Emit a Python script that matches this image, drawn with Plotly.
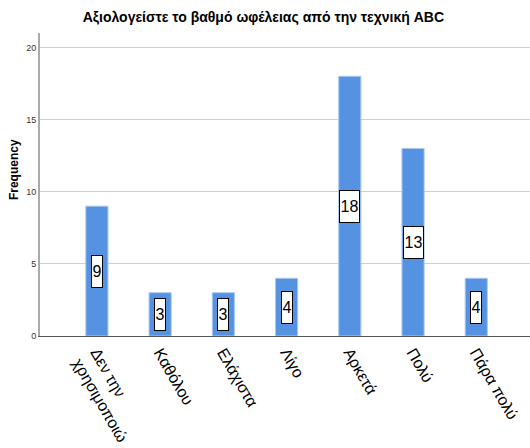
import plotly.graph_objects as go

categories = ["Δεν την<br>χρησιμοποιώ", "Καθόλου", "Ελάχιστα", "Λίγο", "Αρκετά", "Πολύ", "Πάρα πολύ"]
values = [9, 3, 3, 4, 18, 13, 4]
title_text = "Αξιολογείστε το βαθμό ωφέλειας από την τεχνική ABC"
y_title = "Frequency"
y_ticks = [0, 5, 10, 15, 20]

x_idx = list(range(len(categories)))

fig = go.Figure()
fig.add_trace(go.Bar(
    x=x_idx, y=values, width=0.35,
    marker=dict(color="#5592E2", line=dict(color="#A9C8F2", width=1)),
    hoverinfo="skip",
))

for i, v in zip(x_idx, values):
    fig.add_annotation(
        x=i, y=v / 2, xref="x", yref="y", text=str(v), showarrow=False,
        font=dict(family="Liberation Sans, Arial", size=16, color="black"),
        bgcolor="white", bordercolor="black", borderwidth=1, borderpad=0,
        width=9 * len(str(v)) + 1, height=31,
    )

fig.add_annotation(
    x=0, xref="paper", xshift=-26, y=11.5, yref="y", text="<b>" + y_title + "</b>",
    textangle=-90, showarrow=False, xanchor="center", yanchor="middle",
    font=dict(size=12, color="black", family="Liberation Sans, Arial"),
)

fig.update_layout(
    width=530, height=448,
    margin=dict(l=40, r=0, t=33, b=112),
    paper_bgcolor="white", plot_bgcolor="white",
    showlegend=False,
    title=dict(text="<b>" + title_text + "</b>", x=0.497, xanchor="center", y=0.962, yanchor="middle",
               font=dict(family="Liberation Sans, Arial", size=14, color="black")),
    font=dict(family="Liberation Sans, Arial", color="black"),
)
fig.update_xaxes(
    range=[-0.9, 6.85], tickmode="array", tickvals=x_idx, ticktext=categories,
    tickangle=60, tickfont=dict(size=16, color="black", family="Liberation Sans, Arial"),
    showline=True, linecolor="#555555", linewidth=1, showgrid=False, zeroline=False, ticks="",
)
fig.update_yaxes(
    range=[0, 21], tickmode="array", tickvals=y_ticks, ticktext=[str(t) for t in y_ticks],
    tickfont=dict(size=9, color="#333333", family="Liberation Sans, Arial"),
    showgrid=True, gridcolor="#CFCFCF", gridwidth=1, zeroline=False,
    showline=True, linecolor="#AAAAAA", linewidth=2, ticks="", ticklen=0,
)

fig.write_html("out.html")
